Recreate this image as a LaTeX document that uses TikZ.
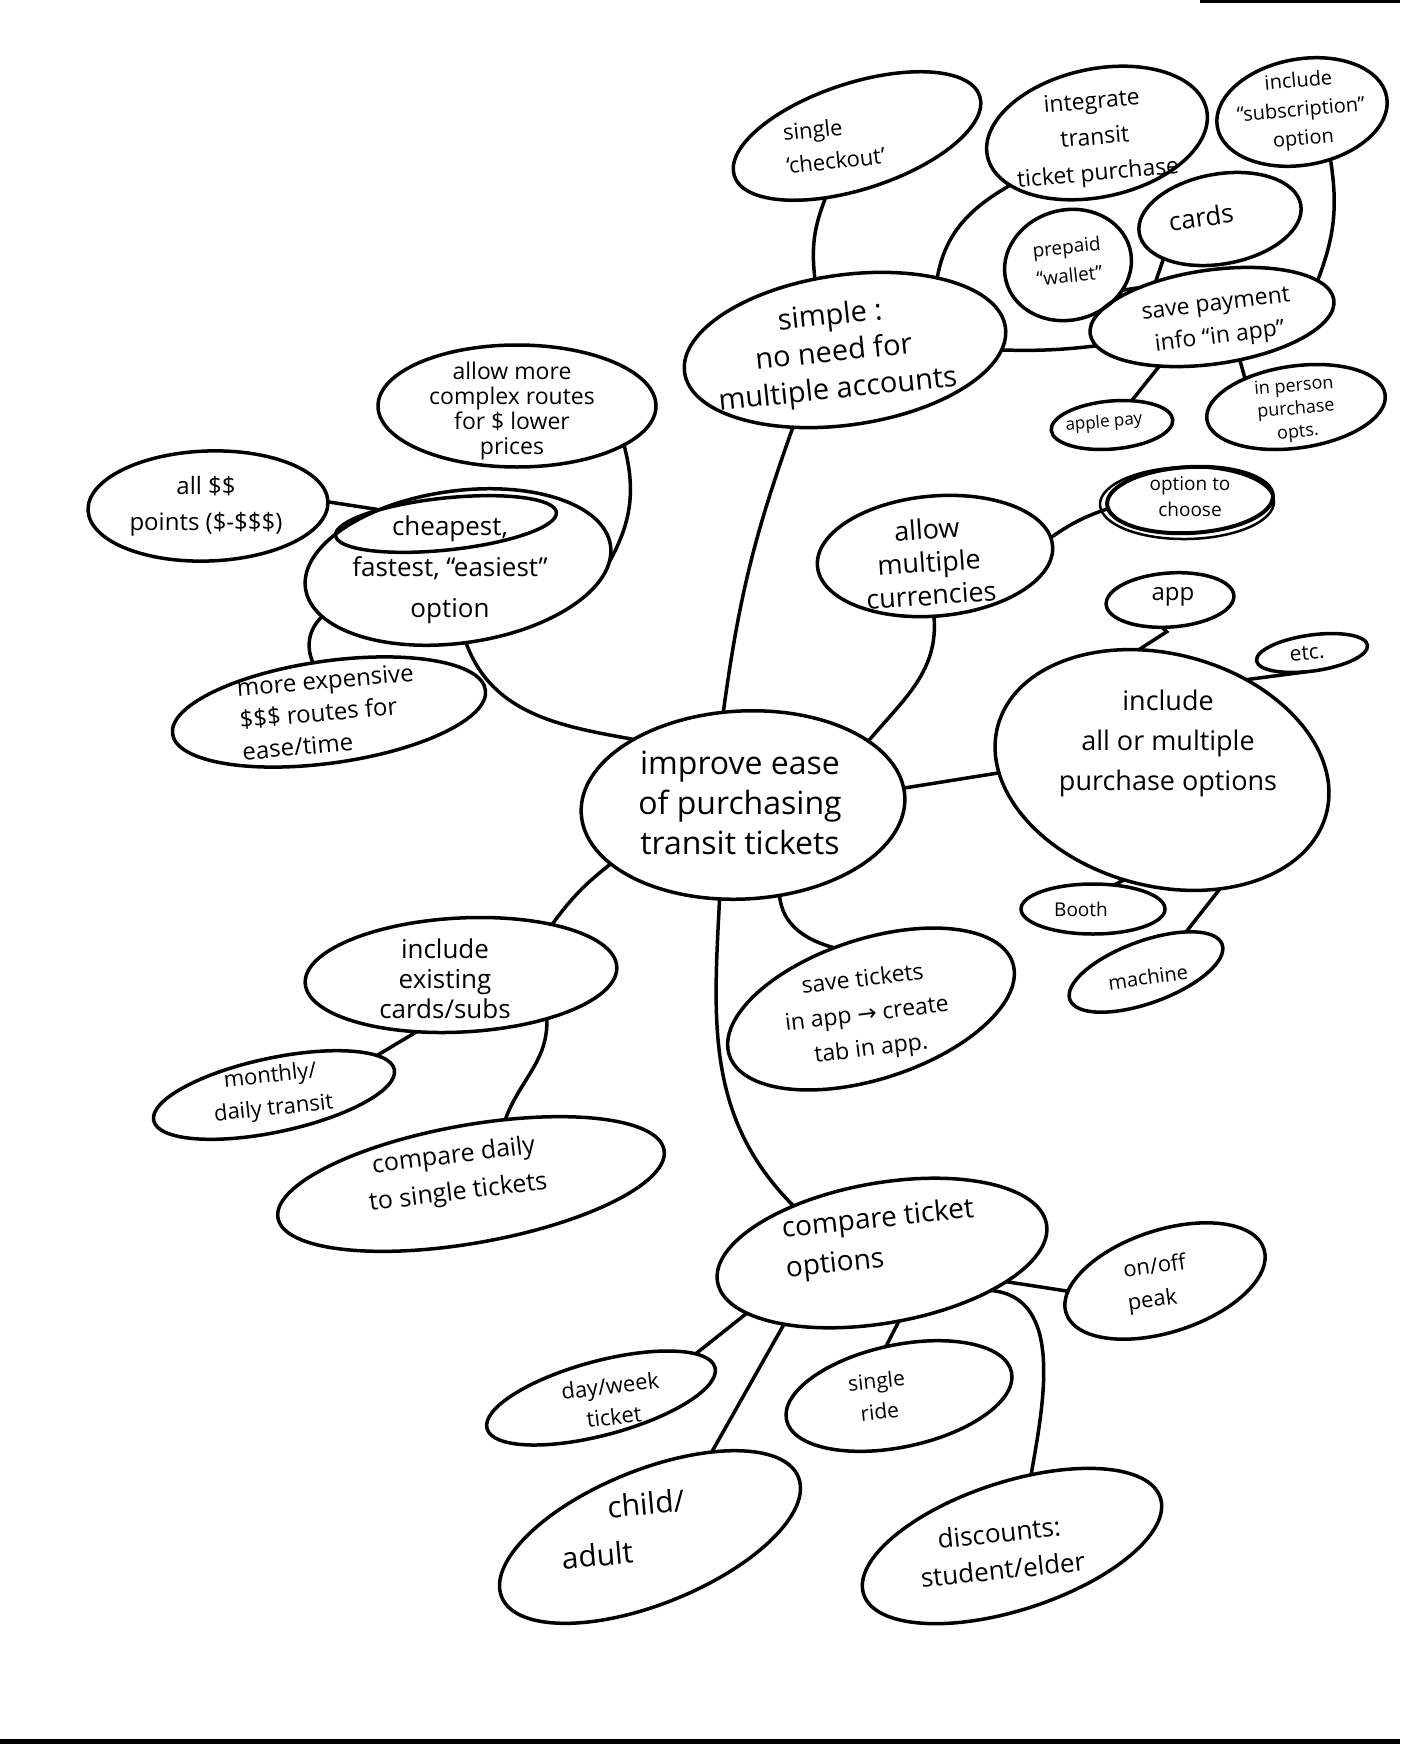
\documentclass[tikz,border=0pt]{standalone}
\usepackage{fontspec}
\setmainfont{Open Sans}
\newfontfamily\arrowfont{DejaVu Sans}
\usetikzlibrary{shapes.geometric}
\newcommand\fsz[2]{\fontsize{#1}{#2}\selectfont}
\begin{document}
\begin{tikzpicture}[x=1pt,y=1pt,
  bub/.style={draw=black,ellipse,line width=3.5pt,inner sep=0pt,outer sep=0pt},
  tx/.style={align=center,inner sep=0pt,text=black},
  ln/.style={draw=black,line width=3.5pt,line cap=round}]
\fill[white] (0,0) rectangle (1400,-1744);
\useasboundingbox (0,0) rectangle (1400,-1744);
% scan edges
\fill[black] (1200,0) rectangle (1400,-3);
\fill[black] (0,-1739) rectangle (1400,-1744);
% ---------- bubbles ----------
\node[bub,minimum width=324pt,minimum height=188pt,rotate=3] (imp) at (743,-805) {};
\node[bub,minimum width=324pt,minimum height=150pt,rotate=8] (simple) at (845,-350) {};
\node[bub,minimum width=258pt,minimum height=106pt,rotate=18] (checkout) at (857,-136) {};
\node[bub,minimum width=224pt,minimum height=128pt,rotate=12] (integrate) at (1097,-133) {};
\node[bub,minimum width=172pt,minimum height=106pt,rotate=10] (subscr) at (1302,-112) {};
\node[bub,minimum width=164pt,minimum height=90pt,rotate=10] (cards) at (1220,-219) {};
\node[bub,minimum width=128pt,minimum height=110pt,rotate=15] (prepaid) at (1068,-265) {};
\node[bub,minimum width=246pt,minimum height=94pt,rotate=8] (savepay) at (1212,-317) {};
\node[bub,minimum width=122pt,minimum height=48pt,rotate=5] (applepay) at (1112,-425) {};
\node[bub,minimum width=180pt,minimum height=82pt,rotate=8] (inperson) at (1296,-407) {};
\node[bub,minimum width=278pt,minimum height=122pt] (complex) at (517,-406) {};
\node[bub,minimum width=240pt,minimum height=110pt,rotate=2] (allpoints) at (208,-506) {};
\node[bub,minimum width=308pt,minimum height=152pt,rotate=8] (cheap) at (458,-567) {};
\node[bub,minimum width=222pt,minimum height=52pt,rotate=6] (cheapin) at (446,-524) {};
\node[bub,minimum width=316pt,minimum height=102pt,rotate=8] (expensive) at (329,-712) {};
\node[bub,minimum width=236pt,minimum height=120pt,rotate=5] (currency) at (935,-556) {};
\node[bub,minimum width=166pt,minimum height=66pt,rotate=3,line width=4pt] (choose) at (1190,-500) {};
\node[bub,minimum width=174pt,minimum height=72pt,rotate=1,line width=2.5pt] (choosetwo) at (1187,-503) {};
\node[bub,minimum width=128pt,minimum height=54pt,rotate=4] (app) at (1170,-600) {};
\node[bub,minimum width=112pt,minimum height=36pt,rotate=8] (etc) at (1312,-653) {};
\node[bub,minimum width=340pt,minimum height=232pt,rotate=-15] (purchase) at (1162,-770) {};
\node[bub,minimum width=144pt,minimum height=50pt] (booth) at (1093,-909) {};
\node[bub,minimum width=162pt,minimum height=62pt,rotate=20] (machine) at (1146,-972) {};
\node[bub,minimum width=298pt,minimum height=140pt,rotate=18] (savetix) at (871,-1009) {};
\node[bub,minimum width=312pt,minimum height=114pt,rotate=3] (existing) at (461,-975) {};
\node[bub,minimum width=246pt,minimum height=74pt,rotate=12] (monthly) at (274,-1095) {};
\node[bub,minimum width=392pt,minimum height=118pt,rotate=10] (cmpdaily) at (471,-1184) {};
\node[bub,minimum width=334pt,minimum height=140pt,rotate=10] (cmptix) at (882,-1253) {};
\node[bub,minimum width=208pt,minimum height=102pt,rotate=18] (peak) at (1165,-1281) {};
\node[bub,minimum width=236pt,minimum height=74pt,rotate=15] (dayweek) at (601,-1398) {};
\node[bub,minimum width=230pt,minimum height=102pt,rotate=12] (ride) at (899,-1396) {};
\node[bub,minimum width=320pt,minimum height=134pt,rotate=22] (child) at (650,-1537) {};
\node[bub,minimum width=312pt,minimum height=128pt,rotate=18] (discount) at (1012,-1546) {};
% ---------- texts ----------
\node[tx,font=\fsz{32}{40}] (impt) at (740,-803) {improve ease\\of purchasing\\transit tickets};
\node[tx,font=\fsz{29}{37},rotate=6] (simplet) at (834,-354) {simple :\\no need for\\multiple accounts};
\node[tx,align=left,font=\fsz{22}{33},rotate=6] (checkoutt) at (834,-144) {single\\‘checkout’};
\node[tx,font=\fsz{23}{36},rotate=5] (integratet) at (1095,-139) {integrate\\transit\\ticket purchase};
\node[tx,font=\fsz{20}{29},rotate=5] (subscrt) at (1301,-111) {include\\“subscription”\\option};
\node[tx,font=\fsz{26}{30},rotate=8] (cardst) at (1201,-217) {cards};
\node[tx,font=\fsz{19}{29},rotate=6] (prepaidt) at (1068,-261) {prepaid\\“wallet”};
\node[tx,font=\fsz{23}{33},rotate=7] (savepayt) at (1218,-322) {save payment\\info “in app”};
\node[tx,font=\fsz{17}{20},rotate=5] (applepayt) at (1104,-423) {apple pay};
\node[tx,font=\fsz{18}{23},rotate=5] (inpersont) at (1296,-410) {in person\\purchase\\opts.};
\node[tx,font=\fsz{23}{25}] (complext) at (512,-411) {allow more\\complex routes\\for \$ lower\\prices};
\node[tx,font=\fsz{24}{36}] (allpointst) at (206,-506) {all \$\$\\points (\$-\$\$\$)};
\node[tx,font=\fsz{26}{41}] (cheapt) at (450,-570) {cheapest,\\fastest, “easiest”\\option};
\node[tx,align=left,font=\fsz{24}{32},rotate=5] (expensivet) at (328,-712) {more expensive\\\$\$\$ routes for\\ease/time};
\node[tx,font=\fsz{27}{33},rotate=4] (currencyt) at (929,-562) {allow\\multiple\\currencies};
\node[tx,font=\fsz{19}{26}] (chooset) at (1190,-497) {option to\\choose};
\node[tx,font=\fsz{24}{28}] (appt) at (1173,-597) {app};
\node[tx,font=\fsz{21}{24},rotate=5] (etct) at (1307,-653) {etc.};
\node[tx,font=\fsz{27}{40}] (purchaset) at (1168,-743) {include\\all or multiple\\purchase options};
\node[tx,font=\fsz{19}{22}] (booths) at (1081,-909) {Booth};
\node[tx,font=\fsz{20}{24},rotate=8] (machinet) at (1148,-977) {machine};
\node[tx,font=\fsz{23}{35},rotate=7] (savetixt) at (867,-1015) {save tickets\\in app {\arrowfont→} create\\tab in app.};
\node[tx,font=\fsz{22}{33},rotate=6] (monthlyt) at (272,-1093) {monthly/\\daily transit};
\node[tx,font=\fsz{26}{30}] (existingt) at (445,-979) {include\\existing\\cards/subs};
\node[tx,font=\fsz{25}{37},rotate=7] (cmpdailyt) at (456,-1175) {compare daily\\to single tickets};
\node[tx,align=left,font=\fsz{28}{40},rotate=6] (cmptixt) at (880,-1240) {compare ticket\\options};
\node[tx,align=left,font=\fsz{22}{33},rotate=8] (peakt) at (1157,-1284) {on/off\\peak};
\node[tx,font=\fsz{22}{31},rotate=7] (dayweekt) at (612,-1401) {day/week\\ticket};
\node[tx,font=\fsz{21}{31},rotate=6] (ridet) at (878,-1396) {single\\ride};
\node[tx,align=left,font=\fsz{30}{47},rotate=5] (childt) at (623,-1529) {\hspace*{50pt}child/\\adult};
\node[tx,font=\fsz{26}{37},rotate=6] (discountt) at (1001,-1551) {discounts:\\student/elder};
% ---------- connectors ----------
\draw[ln] (imp.99) to[bend left=6] (simple.228);
\draw[ln] (cheap.268) to[out=-70,in=170] (imp.146);
\draw[ln] (imp.24) to[out=50,in=-85] (currency.264);
\draw[ln] (imp.3) -- (purchase.196);
\draw[ln] (imp.201) to[bend right=8] (existing.26);
\draw[ln] (imp.253) to[out=-93,in=135] (cmptix.142);
\draw[ln] (imp.289) to[out=-85,in=165] (savetix.103);
\draw[ln] (simple.105) to[bend left=14] (checkout.225);
\draw[ln] (simple.30) to[out=80,in=210] (integrate.199);
\draw[ln] (simple.352) to[bend right=4] (savepay.186);
\draw[ln] (prepaid.320) -- (savepay.150);
\draw[ln] (cards.205) -- (savepay.140);
\draw[ln] (savepay.11) to[bend right=15] (subscr.291);
\draw[ln] (savepay.215) -- (applepay.46);
\draw[ln] (savepay.295) -- (inperson.143);
\draw[ln] (complex.340) to[bend left=22] (cheap.354);
\draw[ln] (allpoints.0) -- (cheap.136);
\draw[ln] (cheap.192) to[bend right=35] (expensive.100);
\draw[ln] (currency.4) to[bend left=8] (choose.183);
\draw[ln] (purchase.116) -- ++(28,18) -- (app.250);
\draw[ln] (purchase.62) -- (etc.245);
\draw[ln] (purchase.266) -- (booth.49);
\draw[ln] (purchase.311) -- (machine.25);
\draw[ln] (existing.229) -- (monthly.9);
\draw[ln] (existing.330) to[out=-88,in=70] (cmpdaily.52);
\draw[ln] (cmptix.337) -- (peak.168);
\draw[ln] (cmptix.194) -- (dayweek.10);
\draw[ln] (cmptix.206) -- (child.32);
\draw[ln] (cmptix.274) -- (ride.93);
\draw[ln] (cmptix.331) to[out=-5,in=80] (discount.57);
\end{tikzpicture}
\end{document}
